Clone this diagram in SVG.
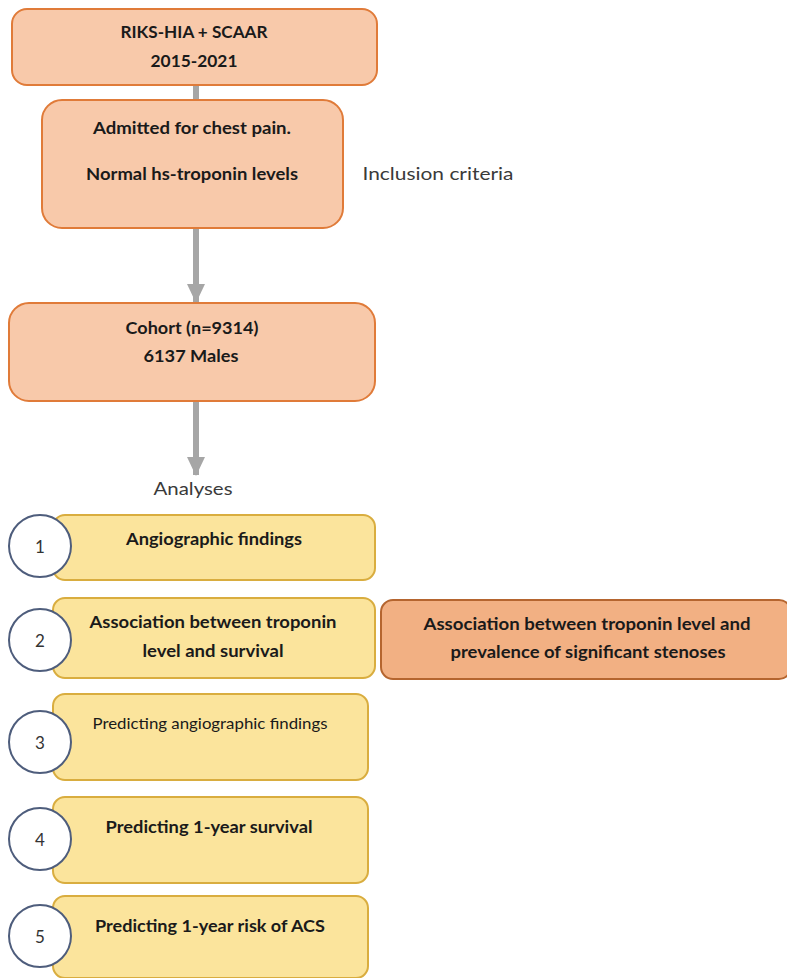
<svg xmlns="http://www.w3.org/2000/svg" width="787" height="978" viewBox="0 0 787 978">
<defs>
<style>
text{font-family:Lato,"Liberation Sans",sans-serif;fill:#1a1a1a;text-anchor:middle}
.b{font-weight:bold;font-size:17px}
.r{font-size:17px}
.peach{fill:#f8c9aa;stroke:#e07b39;stroke-width:2}
.dark{fill:#f2b083;stroke:#b5652f;stroke-width:2}
.yel{fill:#fbe49c;stroke:#d9ad3f;stroke-width:2}
.circ{fill:#fff;stroke:#4e5d7c;stroke-width:2}
.num{font-size:17px;fill:#333}
.conn{stroke:#a6a6a6;stroke-width:6;fill:none}
</style>
<marker id="ah" markerUnits="userSpaceOnUse" markerWidth="20" markerHeight="20" refX="18" refY="9" orient="auto">
<path d="M0,0 L19,9 L0,18 Z" fill="#a6a6a6"/>
</marker>
</defs>
<rect width="787" height="978" fill="#fff"/>
<g id="connectors">
<line class="conn" x1="196" y1="85" x2="196" y2="101"/>
<line class="conn" x1="196" y1="228" x2="196" y2="302" marker-end="url(#ah)"/>
<line class="conn" x1="196" y1="402" x2="196" y2="475" marker-end="url(#ah)"/>
</g>
<g id="source">
<rect class="peach" x="12" y="9" width="365" height="76" rx="15"/>
<text class="b" x="194" y="38" textLength="147" lengthAdjust="spacingAndGlyphs">RIKS-HIA + SCAAR</text>
<text class="b" x="194" y="67" textLength="87" lengthAdjust="spacingAndGlyphs">2015-2021</text>
</g>
<g id="inclusion">
<rect class="peach" x="42" y="100" width="301" height="128" rx="20"/>
<text class="b" x="192" y="134" textLength="198" lengthAdjust="spacingAndGlyphs">Admitted for chest pain.</text>
<text class="b" x="192" y="180" textLength="212" lengthAdjust="spacingAndGlyphs">Normal hs-troponin levels</text>
</g>
<g id="inclusion-label">
<text class="r" x="438" y="180" style="fill:#3a3a3a" textLength="151" lengthAdjust="spacingAndGlyphs">Inclusion criteria</text>
</g>
<g id="cohort">
<rect class="peach" x="9" y="303" width="366" height="98" rx="20"/>
<text class="b" x="192" y="334" textLength="133" lengthAdjust="spacingAndGlyphs">Cohort (n=9314)</text>
<text class="b" x="191" y="362" textLength="95" lengthAdjust="spacingAndGlyphs">6137 Males</text>
</g>
<g id="analyses-label">
<text class="r" x="193" y="495" style="fill:#3a3a3a" textLength="79" lengthAdjust="spacingAndGlyphs">Analyses</text>
</g>
<g id="analysis1">
<rect class="yel" x="53" y="515" width="322" height="65" rx="12"/>
<text class="b" x="214" y="545" textLength="176" lengthAdjust="spacingAndGlyphs">Angiographic findings</text>
<circle class="circ" cx="40" cy="546" r="31"/>
<text class="num" x="40" y="553">1</text>
</g>
<g id="analysis2">
<rect class="yel" x="53" y="598" width="322" height="80" rx="12"/>
<text class="b" x="213" y="628" textLength="247" lengthAdjust="spacingAndGlyphs">Association between troponin</text>
<text class="b" x="213" y="657" textLength="141" lengthAdjust="spacingAndGlyphs">level and survival</text>
<circle class="circ" cx="40" cy="640" r="31"/>
<text class="num" x="40" y="647">2</text>
</g>
<g id="analysis2b">
<rect class="dark" x="381" y="600" width="410" height="79" rx="12"/>
<text class="b" x="587" y="630" textLength="327" lengthAdjust="spacingAndGlyphs">Association between troponin level and</text>
<text class="b" x="588" y="658" textLength="275" lengthAdjust="spacingAndGlyphs">prevalence of significant stenoses</text>
</g>
<g id="analysis3">
<rect class="yel" x="53" y="694" width="315" height="86" rx="12"/>
<text x="210" y="729" style="font-size:15px" textLength="235" lengthAdjust="spacingAndGlyphs">Predicting angiographic findings</text>
<circle class="circ" cx="40" cy="742" r="31"/>
<text class="num" x="40" y="749">3</text>
</g>
<g id="analysis4">
<rect class="yel" x="53" y="797" width="315" height="86" rx="12"/>
<text class="b" x="209" y="833" textLength="207" lengthAdjust="spacingAndGlyphs">Predicting 1-year survival</text>
<circle class="circ" cx="40" cy="839" r="31"/>
<text class="num" x="40" y="846">4</text>
</g>
<g id="analysis5">
<rect class="yel" x="53" y="896" width="315" height="82" rx="12"/>
<text class="b" x="210" y="932" textLength="230" lengthAdjust="spacingAndGlyphs">Predicting 1-year risk of ACS</text>
<circle class="circ" cx="40" cy="936" r="31"/>
<text class="num" x="40" y="943">5</text>
</g>
</svg>
